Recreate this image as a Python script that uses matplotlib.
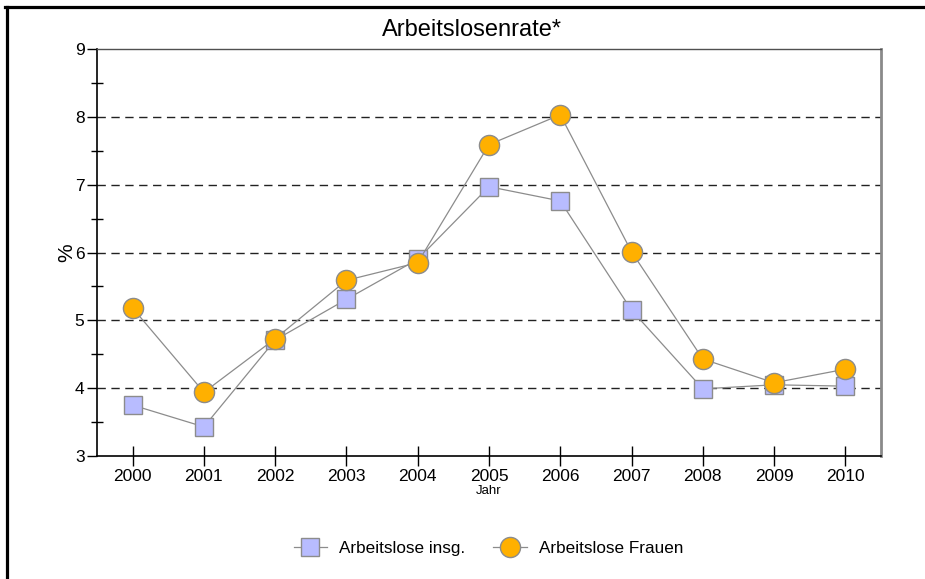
import matplotlib.pyplot as plt
from matplotlib.lines import Line2D
from matplotlib.ticker import MultipleLocator

plt.rcParams["font.family"] = ["Liberation Sans", "DejaVu Sans"]

years = ["2000", "2001", "2002", "2003", "2004", "2005", "2006", "2007", "2008", "2009", "2010"]
gesamt = [3.75, 3.43, 4.71, 5.31, 5.90, 6.97, 6.76, 5.15, 3.99, 4.05, 4.03]
frauen = [5.18, 3.94, 4.73, 5.59, 5.85, 7.59, 8.03, 6.01, 4.43, 4.08, 4.28]

fig = plt.figure(figsize=(9.25, 5.79), dpi=100)
ax = fig.add_axes([0.1049, 0.2124, 0.8475, 0.703])

x = range(len(years))
ax.plot(x, gesamt, color="#8c8c8c", lw=0.9, marker="s", markersize=13,
        markerfacecolor="#b8bcff", markeredgecolor="#8c8c8c", markeredgewidth=1,
        label="Arbeitslose insg.", zorder=3)
ax.plot(x, frauen, color="#8c8c8c", lw=0.9, marker="o", markersize=14.5,
        markerfacecolor="#ffb000", markeredgecolor="#8c8c8c", markeredgewidth=1,
        label="Arbeitslose Frauen", zorder=4)

ax.set_xlim(-0.5, 10.5)
ax.set_ylim(3, 9)
ax.set_xticks(list(x))
ax.set_xticklabels(years)
ax.yaxis.set_major_locator(MultipleLocator(1))
ax.yaxis.set_minor_locator(MultipleLocator(0.5))
for v in range(4, 9):
    ax.axhline(v, color="#222222", lw=1, ls=(0, (6, 4)), zorder=1)

ax.tick_params(axis="x", direction="inout", length=14, width=1, labelsize=12.5, pad=2)
ax.tick_params(axis="y", which="major", direction="out", length=7, width=1, labelsize=12.5, pad=2)
ax.tick_params(axis="y", which="minor", direction="inout", length=8, width=1)

for side in ["left", "bottom"]:
    ax.spines[side].set_color("black")
    ax.spines[side].set_linewidth(1.2)
ax.spines["top"].set_color("#505050")
ax.spines["top"].set_linewidth(1)
ax.spines["right"].set_color("#8a8a8a")
ax.spines["right"].set_linewidth(2)

fig.text(0.510, 0.948, "Arbeitslosenrate*", fontsize=17, ha="center", va="center")
ax.set_ylabel("%", fontsize=15, labelpad=-1)
ax.set_xlabel("Jahr", fontsize=9.5, labelpad=1)

fig.legend(loc="center", bbox_to_anchor=(0.528, 0.053), ncol=2, frameon=False,
           fontsize=12.3, handlelength=1.95, columnspacing=1.65, handletextpad=0.7)

# Rahmen links und oben
fig.add_artist(Line2D([0.0072, 0.0072], [0, 0.988], transform=fig.transFigure, color="black", lw=2.3))
fig.add_artist(Line2D([0.0057, 1.0], [0.988, 0.988], transform=fig.transFigure, color="black", lw=2.3))

fig.savefig("out.png", dpi=100)
